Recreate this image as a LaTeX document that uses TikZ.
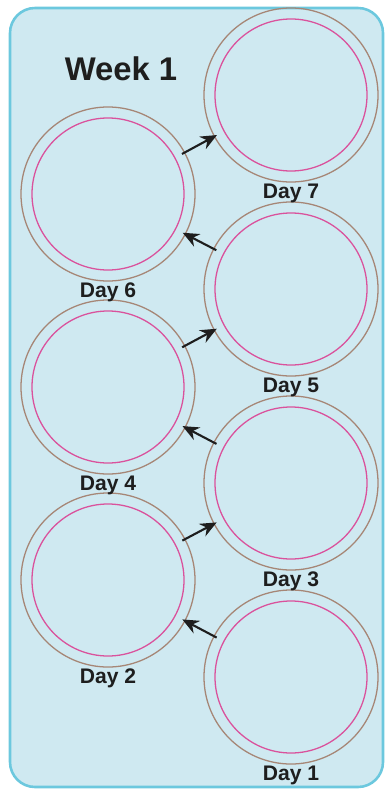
\documentclass[tikz,border=0pt]{standalone}
\usepackage{fontspec}
\setmainfont{Liberation Sans}
\usetikzlibrary{arrows.meta,positioning}
\definecolor{panelfill}{RGB}{207,233,241}
\definecolor{panelline}{RGB}{108,200,222}
\definecolor{rimbrown}{RGB}{166,134,118}
\definecolor{rimpink}{RGB}{218,82,156}
\definecolor{inkdark}{RGB}{30,30,30}
\tikzset{
  dish/.style={circle,draw=rimbrown,line width=1.1pt,minimum size=5.22cm,inner sep=0pt},
  rim/.style={draw=rimpink,line width=1.1pt},
  daylbl/.style={font=\bfseries\fontsize{18}{18}\selectfont,text=inkdark,inner sep=0pt},
  nextday/.style={-{Stealth[length=14pt,width=12pt]},line width=1.8pt,draw=inkdark,
    shorten <=-3pt,shorten >=-3pt}
}
\begin{document}
\begin{tikzpicture}[x=0.03cm,y=0.03cm]
    \useasboundingbox (0,0) rectangle (385,-790);
    % the week panel
    \draw[fill=panelfill,draw=panelline,line width=2.2pt,rounded corners=0.75cm]
      (10,-8) rectangle (383,-787);
    \node[font=\bfseries\fontsize{28}{28}\selectfont,text=inkdark] (week) at (121,-69) {Week 1};
    % one dish per day, zig-zag up the panel
    \foreach \n/\x/\y in {1/291/677,2/108/580,3/291/483,4/108/387,5/291/289,6/108/194,7/291/95}{
      \node[dish] (d\n) at (\x,-\y) {};
      \draw[rim] (d\n.center) circle (76);
      \node[daylbl,below=1pt of d\n] (l\n) {Day \n};
    }
    % arrows from each day to the next
    \foreach \a/\b in {1/2,2/3,3/4,4/5,5/6,6/7}
      \draw[nextday] (d\a) -- (d\b);
\end{tikzpicture}
\end{document}
